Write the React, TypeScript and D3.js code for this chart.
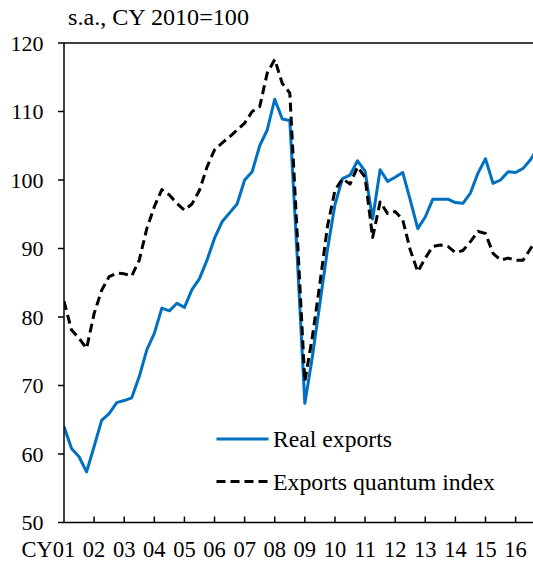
import React from "react";
import * as d3 from "d3";

const yearLabels = ["01","02","03","04","05","06","07","08","09","10","11","12","13","14","15","16"];
const yTicks = [50, 60, 70, 80, 90, 100, 110, 120];
const title = "s.a., CY 2010=100";
const seriesNames = ["Real exports", "Exports quantum index"];

// quarterly, 2001Q1 onwards
const realExports = [
  64.0, 60.8, 59.6, 57.4, 61.1, 64.9, 65.9, 67.5, 67.8, 68.2, 71.3, 75.2,
  77.6, 81.3, 80.9, 82.0, 81.4, 84.0, 85.6, 88.3, 91.5, 93.9, 95.2, 96.5,
  100.0, 101.2, 105.0, 107.3, 111.8, 108.9, 108.7, 88.5, 67.4, 74.2, 82.0, 89.8,
  96.4, 100.2, 100.7, 102.8, 101.3, 94.3, 101.5, 99.8, 100.4, 101.1, 97.1, 92.9,
  94.6, 97.2, 97.2, 97.2, 96.7, 96.6, 98.1, 101.0, 103.1, 99.5, 100.0, 101.2,
  101.1, 101.7, 103.0, 104.8,
];
const quantumIndex = [
  82.3, 78.1, 76.9, 75.4, 80.5, 83.9, 85.9, 86.4, 86.3, 86.0, 88.3, 92.9,
  96.1, 98.6, 97.8, 96.6, 95.6, 96.5, 98.5, 101.9, 104.4, 105.4, 106.3, 107.3,
  108.3, 110.0, 110.7, 115.6, 117.6, 114.1, 112.7, 91.8, 70.6, 77.1, 84.9, 93.2,
  98.5, 100.2, 99.4, 101.9, 100.4, 91.6, 96.8, 95.1, 95.4, 94.2, 89.8, 86.6,
  88.6, 90.3, 90.5, 90.3, 89.4, 89.7, 91.0, 92.5, 92.2, 89.3, 88.3, 88.6,
  88.3, 88.3, 90.0, 91.5,
];

const W = 533;
const H = 564;
const BLUE = "#0070C0";
const FONT = "'Liberation Serif', 'Times New Roman', serif";

export default function App() {
  const left = 64;
  const right = 533;
  const top = 43;
  const bottom = 522.5;
  const x = d3.scaleLinear().domain([0, 60]).range([left, 515.6]);
  const y = d3.scaleLinear().domain([50, 120]).range([bottom, top]);
  const line = d3
    .line<number>()
    .x((_, i) => x(i))
    .y((d) => y(d))
    .curve(d3.curveLinear);

  return (
    <svg
      width={W}
      height={H}
      style={{ position: "absolute", left: 0, top: 0, background: "#fff" }}
      fontFamily={FONT}
    >
      <defs>
        <clipPath id="plot">
          <rect x={left} y={0} width={right - left} height={H} />
        </clipPath>
      </defs>
      <text x={68} y={25} fontSize={23.5} fill="#000" textLength={181} lengthAdjust="spacingAndGlyphs">
        {title}
      </text>

      {/* y axis ticks and labels */}
      {yTicks.map((t) => (
        <g key={t}>
          <line x1={58} x2={left} y1={y(t)} y2={y(t)} stroke="#000" strokeWidth={1.5} />
          <text
            x={43.5}
            y={y(t)}
            textAnchor="end"
            dominantBaseline="central"
            fontSize={22}
            fill="#000"
          >
            {t}
          </text>
        </g>
      ))}

      {/* x ticks and labels */}
      {yearLabels.map((lab, k) => {
        const xi = x(k * 4);
        return (
          <g key={lab}>
            {k > 0 && (
              <line x1={xi} x2={xi} y1={bottom} y2={bottom - 6} stroke="#000" strokeWidth={1.5} />
            )}
            <text x={xi} y={557} textAnchor="middle" fontSize={22.5} fill="#000">
              {lab}
            </text>
          </g>
        );
      })}
      <text x={x(0) - 11.2} y={557} textAnchor="end" fontSize={22.5} fill="#000">
        CY
      </text>

      {/* series */}
      <g clipPath="url(#plot)">
        <path d={line(realExports) || ""} fill="none" stroke={BLUE} strokeWidth={3} strokeLinejoin="round" />
        <path
          d={line(quantumIndex) || ""}
          fill="none"
          stroke="#000"
          strokeWidth={3}
          strokeDasharray="9,5"
          strokeLinejoin="round"
        />
      </g>

      {/* axes frame */}
      <line x1={left} x2={right} y1={top} y2={top} stroke="#000" strokeWidth={1.5} />
      <line x1={left} x2={right} y1={bottom} y2={bottom} stroke="#000" strokeWidth={1.5} />
      <line x1={left} x2={left} y1={top} y2={bottom} stroke="#000" strokeWidth={1.5} />

      {/* legend */}
      <line x1={216.5} x2={268.5} y1={439} y2={439} stroke={BLUE} strokeWidth={3} />
      <text x={273} y={447} fontSize={23} fill="#000" textLength={119} lengthAdjust="spacingAndGlyphs">
        {seriesNames[0]}
      </text>
      <line x1={216.5} x2={268.5} y1={481.5} y2={481.5} stroke="#000" strokeWidth={3} strokeDasharray="9,5" />
      <text x={273} y={490} fontSize={23} fill="#000" textLength={222} lengthAdjust="spacingAndGlyphs">
        {seriesNames[1]}
      </text>
    </svg>
  );
}
